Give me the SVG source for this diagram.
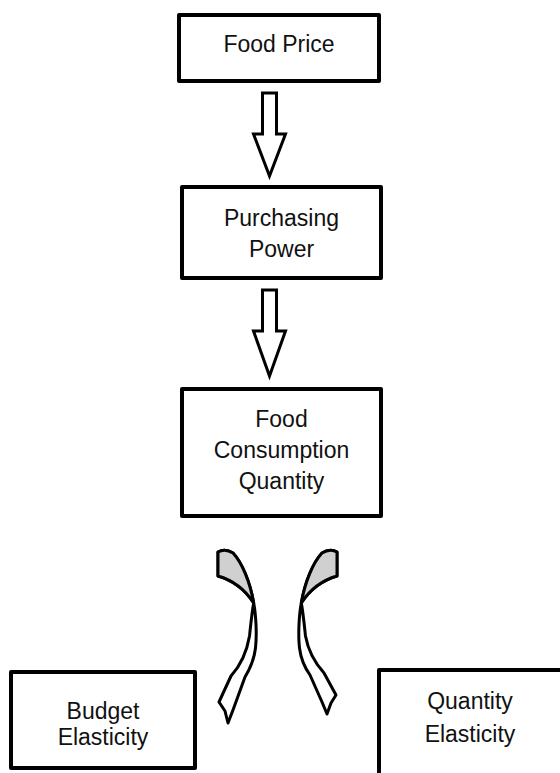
<svg xmlns="http://www.w3.org/2000/svg" width="560" height="773" viewBox="0 0 560 773">
<style>
.box{fill:#fff;stroke:#000;stroke-width:4;stroke-linejoin:round}
.t{font-family:"Liberation Sans",Arial,sans-serif;font-size:23px;fill:#111;text-anchor:middle}
.blk{fill:#fff;stroke:#000;stroke-width:3;stroke-linejoin:miter}
.crv{stroke:#000;stroke-width:3;stroke-linejoin:round}
</style>
<rect width="560" height="773" fill="#fff"/>
<g id="connectors">
  <path class="blk" d="M262.5,93 L276.5,93 L276.5,134 L285.5,134 L269.5,176 L253.5,134 L262.5,134 Z"/>
  <path class="blk" d="M262.5,290 L276.5,290 L276.5,331 L285.5,331 L269.5,376 L253.5,331 L262.5,331 Z"/>
  <g id="curved-left">
    <path class="crv" fill="#fff" d="M218,552 Q225,548 233,553 C242,562.75 249.9,581.5 253.7,602.9 C256,615 257,635 255.5,648 C254,660 250,669 245,677 L233,710 L228,723 L225,711 L219,702 L231,676 C240,666 247,651 249.5,636 C251,622 252,612 253.7,602.9 C244,588 232,580 218,576 Z"/>
    <path class="crv" fill="#d0d0d0" d="M218,552 Q225,548 233,553 C242,562.75 249.9,581.5 253.7,602.9 C244,588 232,580 218,576 Z"/>
  </g>
  <g id="curved-right">
    <path class="crv" fill="#fff" d="M337,552 Q330,548 322,553 C313,562.75 305.1,581.5 301.3,602.9 C299,615 298,635 299.5,648 C301,660 305,668 310,675 L322,702 L327,714 L331,703 L336,695 L324,673 C315,663 308,650 305.5,636 C304,622 303,612 301.3,602.9 C311,588 323,580 337,576 Z"/>
    <path class="crv" fill="#d0d0d0" d="M337,552 Q330,548 322,553 C313,562.75 305.1,581.5 301.3,602.9 C311,588 323,580 337,576 Z"/>
  </g>
</g>
<g id="food-price">
  <rect class="box" x="179" y="15" width="200" height="66"/>
  <text class="t" x="279" y="52">Food Price</text>
</g>
<g id="purchasing-power">
  <rect class="box" x="182" y="187" width="199" height="91"/>
  <text class="t" x="281.5" y="226">Purchasing</text>
  <text class="t" x="281.5" y="257">Power</text>
</g>
<g id="food-consumption-quantity">
  <rect class="box" x="182" y="389" width="199" height="127"/>
  <text class="t" x="281.5" y="427">Food</text>
  <text class="t" x="281.5" y="458">Consumption</text>
  <text class="t" x="281.5" y="489">Quantity</text>
</g>
<g id="budget-elasticity">
  <rect class="box" x="11" y="672" width="184" height="96"/>
  <text class="t" x="103" y="719">Budget</text>
  <text class="t" x="103" y="745">Elasticity</text>
</g>
<g id="quantity-elasticity">
  <rect class="box" x="379" y="670" width="200" height="115"/>
  <text class="t" x="470" y="709">Quantity</text>
  <text class="t" x="470" y="742">Elasticity</text>
</g>
</svg>
